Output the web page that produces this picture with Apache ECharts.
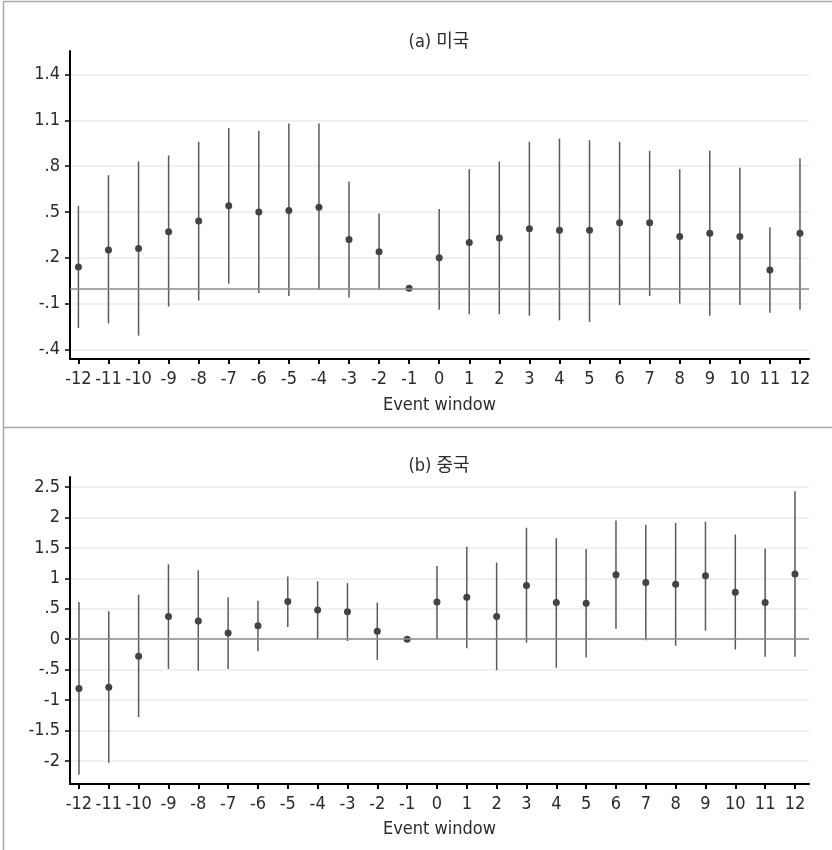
<!DOCTYPE html>
<html>
<head>
<meta charset="utf-8">
<title></title>
<style type="text/css">
  html, body { margin:0; padding:0; background:#fff; }
  #chart { width:832px; height:850px; }
</style>
<script src="https://cdn.jsdelivr.net/npm/echarts@6/dist/echarts.min.js"></script>
</head>
<body>
<div id="chart"></div>
<script type="text/javascript">
// event window (x)
var windows = [-12,-11,-10,-9,-8,-7,-6,-5,-4,-3,-2,-1,0,1,2,3,4,5,6,7,8,9,10,11,12];

// (a) 미국 : point estimate, upper and lower bound
var usEst = [0.14,0.25,0.26,0.37,0.44,0.54,0.50,0.51,0.53,0.32,0.24,0,0.20,0.30,0.33,0.39,0.38,0.38,0.43,0.43,0.34,0.36,0.34,0.12,0.36];
var usHi  = [0.54,0.74,0.83,0.87,0.96,1.05,1.03,1.08,1.08,0.70,0.49,0,0.52,0.78,0.83,0.96,0.98,0.97,0.96,0.90,0.78,0.90,0.79,0.40,0.85];
var usLo  = [-0.26,-0.23,-0.31,-0.12,-0.08,0.03,-0.03,-0.05,-0.01,-0.06,-0.01,0,-0.14,-0.17,-0.17,-0.18,-0.21,-0.22,-0.11,-0.05,-0.10,-0.18,-0.11,-0.16,-0.14];

// (b) 중국
var cnEst = [-0.81,-0.79,-0.28,0.37,0.30,0.10,0.22,0.62,0.48,0.45,0.13,0,0.61,0.69,0.37,0.88,0.60,0.59,1.06,0.93,0.90,1.04,0.77,0.60,1.07];
var cnHi  = [0.61,0.46,0.73,1.23,1.13,0.69,0.63,1.03,0.95,0.92,0.60,0,1.20,1.52,1.26,1.83,1.66,1.48,1.95,1.88,1.91,1.93,1.72,1.49,2.43];
var cnLo  = [-2.23,-2.03,-1.28,-0.49,-0.52,-0.49,-0.20,0.20,0.00,-0.03,-0.34,0,0.00,-0.15,-0.51,-0.06,-0.47,-0.30,0.17,-0.02,-0.11,0.14,-0.17,-0.29,-0.29];

// tick values and labels
var usTicks = [-0.4,-0.1,0.2,0.5,0.8,1.1,1.4];
var usTickLabels = ['-.4','-.1','.2','.5','.8','1.1','1.4'];
var cnTicks = [-2,-1.5,-1,-0.5,0,0.5,1,1.5,2,2.5];
var cnTickLabels = ['-2','-1.5','-1','-.5','0','.5','1','1.5','2','2.5'];
var xTickLabels = windows.map(function (w) { return String(w); });

var titles = ['(a) 미국', '(b) 중국'];
var xName = 'Event window';

// pick a narrow font if one is there (labels in the picture are condensed)
function hasFont(name) {
  var ctx = document.createElement('canvas').getContext('2d');
  var bases = ['monospace', 'serif'];
  for (var i = 0; i < bases.length; i++) {
    ctx.font = '40px ' + bases[i];
    var w0 = ctx.measureText('-12 1.5 Event window').width;
    ctx.font = "40px '" + name + "', " + bases[i];
    var w1 = ctx.measureText('-12 1.5 Event window').width;
    if (w0 !== w1) return true;
  }
  return false;
}
var FONT, FS, FW;
if (hasFont('Liberation Sans Narrow')) { FONT = "'Liberation Sans Narrow'"; FS = 19; FW = 'normal'; }
else if (hasFont('DejaVu Sans Condensed')) { FONT = "'DejaVu Sans Condensed'"; FS = 18; FW = 'normal'; }
else if (hasFont('Roboto Condensed')) { FONT = "'Roboto Condensed'"; FS = 19; FW = 300; }
else { FONT = 'Roboto'; FS = 17; FW = 300; }
FONT += ", 'Noto Sans CJK KR', sans-serif";
var TXT = '#2b2b2b';

function pairs(ys) {
  return windows.map(function (w, i) { return [w, ys[i]]; });
}
function bars(lo, hi) {
  return windows.map(function (w, i) { return [w, lo[i], hi[i]]; });
}
function labelFor(ticks, labels) {
  return function (v) {
    for (var i = 0; i < ticks.length; i++) {
      if (Math.abs(ticks[i] - v) < 1e-6) return labels[i];
    }
    return '';
  };
}

function renderBar(params, api) {
  var x = api.value(0);
  var lo = api.value(1), hi = api.value(2);
  if (lo === hi) return null;
  var p1 = api.coord([x, lo]);
  var p2 = api.coord([x, hi]);
  return {
    type: 'line',
    shape: { x1: p1[0], y1: p1[1], x2: p2[0], y2: p2[1] },
    style: { stroke: '#5a5a5a', lineWidth: 1.5 }
  };
}

function xAxisFor(idx, min, max, gap) {
  return {
    gridIndex: idx, type: 'value', min: min, max: max,
    name: xName, nameLocation: 'middle', nameGap: gap,
    nameTextStyle: { fontFamily: FONT, fontSize: FS, color: TXT, fontWeight: FW },
    axisLine: { show: true, onZero: false, lineStyle: { color: '#000', width: 2 } },
    axisTick: { show: true, length: 5, customValues: windows, lineStyle: { color: '#000', width: 2 } },
    axisLabel: { customValues: windows, hideOverlap: false, interval: 0, showMinLabel: true, showMaxLabel: true,
      margin: 11, fontFamily: FONT, fontSize: FS, color: TXT, fontWeight: FW,
      formatter: labelFor(windows, xTickLabels) },
    splitLine: { show: false }
  };
}
function yAxisFor(idx, min, max, ticks, labels) {
  return {
    gridIndex: idx, type: 'value', min: min, max: max,
    axisLine: { show: true, onZero: false, lineStyle: { color: '#000', width: 2 } },
    axisTick: { show: true, length: 5, customValues: ticks, lineStyle: { color: '#000', width: 1.5 } },
    axisLabel: { customValues: ticks, hideOverlap: false, showMinLabel: true, showMaxLabel: true, margin: 10,
      fontFamily: FONT, fontSize: FS, color: TXT, fontWeight: FW,
      formatter: labelFor(ticks, labels) },
    splitLine: { show: true, lineStyle: { color: '#ececec', width: 1.5 } }
  };
}

var zeroLine = {
  silent: true, symbol: 'none', label: { show: false },
  lineStyle: { color: '#8c8c8c', width: 1.5, type: 'solid' },
  data: [{ yAxis: 0 }]
};

var option = {
  backgroundColor: '#fff',
  animation: false,
  title: [
    { text: titles[0], left: 434, top: 28, textAlign: 'center',
      textStyle: { fontFamily: FONT, fontSize: FS, fontWeight: FW, color: TXT } },
    { text: titles[1], left: 434, top: 452, textAlign: 'center',
      textStyle: { fontFamily: FONT, fontSize: FS, fontWeight: FW, color: TXT } }
  ],
  graphic: [
    { type: 'line', silent: true, shape: { x1: 3.5, y1: 1.5, x2: 832, y2: 1.5 }, style: { stroke: '#a8a8a8', lineWidth: 1.5 } },
    { type: 'line', silent: true, shape: { x1: 3.5, y1: 1.5, x2: 3.5, y2: 850 }, style: { stroke: '#a8a8a8', lineWidth: 1.5 } },
    { type: 'line', silent: true, shape: { x1: 3.5, y1: 427.5, x2: 832, y2: 427.5 }, style: { stroke: '#a8a8a8', lineWidth: 1.5 } }
  ],
  grid: [
    { left: 70, top: 51, width: 739, height: 308 },
    { left: 70, top: 477, width: 739, height: 307 }
  ],
  xAxis: [
    xAxisFor(0, -12.28, 12.3, 37),
    xAxisFor(1, -12.3, 12.47, 36)
  ],
  yAxis: [
    yAxisFor(0, -0.463, 1.554, usTicks, usTickLabels),
    yAxisFor(1, -2.38, 2.664, cnTicks, cnTickLabels)
  ],
  series: [
    { type: 'custom', xAxisIndex: 0, yAxisIndex: 0, renderItem: renderBar, data: bars(usLo, usHi), z: 3,
      markLine: zeroLine },
    { type: 'scatter', xAxisIndex: 0, yAxisIndex: 0, data: pairs(usEst), symbolSize: 7,
      itemStyle: { color: '#434343', opacity: 1 }, z: 4 },
    { type: 'custom', xAxisIndex: 1, yAxisIndex: 1, renderItem: renderBar, data: bars(cnLo, cnHi), z: 3,
      markLine: zeroLine },
    { type: 'scatter', xAxisIndex: 1, yAxisIndex: 1, data: pairs(cnEst), symbolSize: 7,
      itemStyle: { color: '#434343', opacity: 1 }, z: 4 }
  ]
};

var myChart = echarts.init(document.getElementById('chart'), null, { renderer: 'canvas' });
myChart.setOption(option);
</script>
</body>
</html>
